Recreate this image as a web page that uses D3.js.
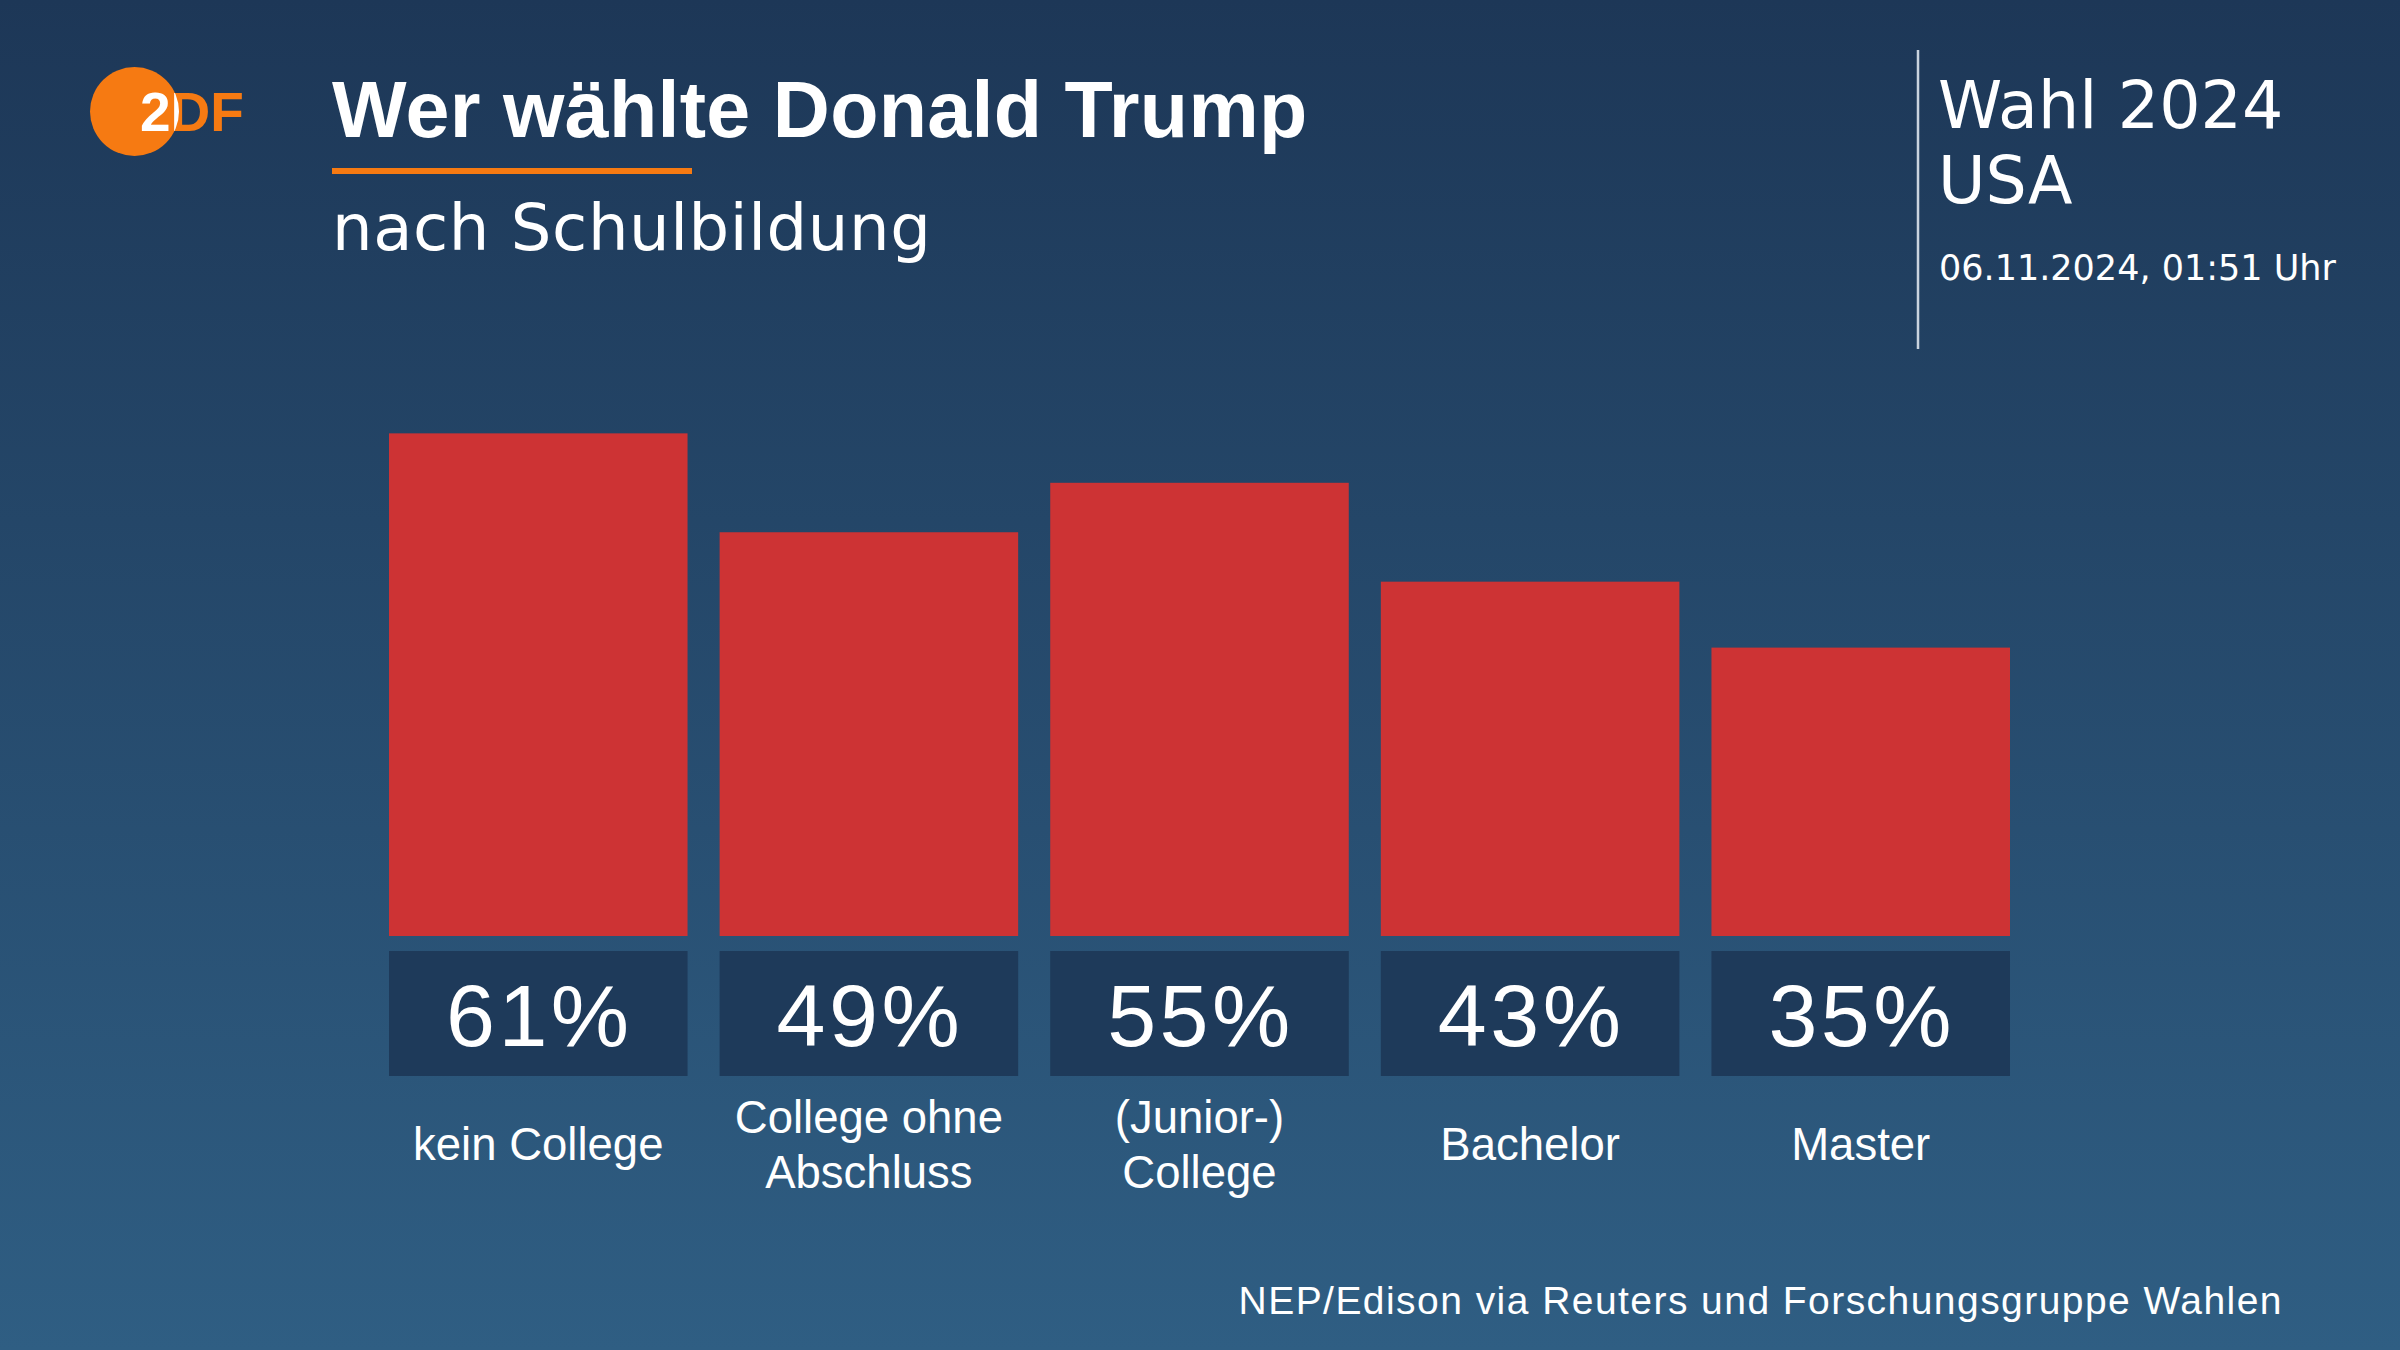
<!DOCTYPE html>
<html><head><meta charset="utf-8">
<script src="https://cdn.jsdelivr.net/npm/d3@7"></script>
<style>html,body{margin:0;padding:0;background:#1d3757;}svg{display:block;}</style>
</head><body>
<script>
// ---- data ----
const categories = ["kein College", "College ohne Abschluss", "(Junior-) College", "Bachelor", "Master"];
const labelLines = [["kein College"], ["College ohne", "Abschluss"], ["(Junior-)", "College"], ["Bachelor"], ["Master"]];
const values = [61, 49, 55, 43, 35];
const valueLabels = ["61%", "49%", "55%", "43%", "35%"];
const title = "Wer wählte Donald Trump";
const subtitle = "nach Schulbildung";
const sideTitle = ["Wahl 2024", "USA"];
const dateText = "06.11.2024, 01:51 Uhr";
const source = "NEP/Edison via Reuters und Forschungsgruppe Wahlen";

const W = 2400, H = 1350;
const svg = d3.select("body").append("svg").attr("width", W).attr("height", H);
const defs = svg.append("defs");
const grad = defs.append("linearGradient").attr("id", "bg").attr("x1", 0).attr("y1", 0).attr("x2", 0).attr("y2", 1);
grad.append("stop").attr("offset", "0%").attr("stop-color", "#1d3757");
grad.append("stop").attr("offset", "100%").attr("stop-color", "#2f5e83");
svg.append("rect").attr("width", W).attr("height", H).attr("fill", "url(#bg)");

const orange = "#f67a12";
const sans = "'Liberation Sans', Arial, sans-serif";
const wide = "'DejaVu Sans', 'Liberation Sans', sans-serif";

// ---- logo ----
const logo = svg.append("g");
defs.append("clipPath").attr("id", "logoClip").append("circle").attr("cx", 134.5).attr("cy", 111.5).attr("r", 44.5);
logo.append("circle").attr("cx", 134.5).attr("cy", 111.5).attr("r", 44.5).attr("fill", orange);
logo.append("text").attr("x", 140).attr("y", 131).attr("font-family", sans).attr("font-weight", 700)
  .attr("font-size", 55).attr("letter-spacing", 0).attr("fill", orange).text("2DF");
logo.append("text").attr("x", 140).attr("y", 131).attr("font-family", sans).attr("font-weight", 700)
  .attr("font-size", 55).attr("letter-spacing", 0).attr("fill", "#fff").attr("clip-path", "url(#logoClip)").text("2DF");

// ---- titles ----
svg.append("text").attr("x", 332).attr("y", 137).attr("font-family", sans).attr("font-weight", 700)
  .attr("font-size", 79).attr("letter-spacing", 0.3).attr("fill", "#fff").text(title);
svg.append("rect").attr("x", 332).attr("y", 168).attr("width", 360).attr("height", 6).attr("fill", orange);
svg.append("text").attr("x", 332).attr("y", 250).attr("font-family", wide)
  .attr("font-size", 64).attr("letter-spacing", 0.6).attr("fill", "#fff").text(subtitle);

// ---- right block ----
svg.append("line").attr("x1", 1918).attr("x2", 1918).attr("y1", 50).attr("y2", 349)
  .attr("stroke", "#c9d3de").attr("stroke-width", 2.5);
svg.selectAll("text.side").data(sideTitle).join("text").attr("class", "side")
  .attr("x", 1938).attr("y", (d, i) => 128 + i * 75).attr("font-family", wide)
  .attr("font-size", 65).attr("fill", "#fff").text(d => d);
svg.append("text").attr("x", 1939).attr("y", 280).attr("font-family", wide)
  .attr("font-size", 35).attr("fill", "#fff").text(dateText);

// ---- chart ----
const x = d3.scaleBand().domain(categories).range([389, 2010]).paddingInner(0.097).paddingOuter(0);
const y = d3.scaleLinear().domain([0, 100]).range([936, 112]);
const data = categories.map((c, i) => ({ c, v: values[i], label: valueLabels[i], lines: labelLines[i] }));

svg.append("g").selectAll("rect").data(data).join("rect")
  .attr("x", d => x(d.c)).attr("width", x.bandwidth())
  .attr("y", d => y(d.v)).attr("height", d => y(0) - y(d.v))
  .attr("fill", "#cd3334");

svg.append("g").selectAll("rect").data(data).join("rect")
  .attr("x", d => x(d.c)).attr("width", x.bandwidth())
  .attr("y", y(0) + 15).attr("height", 125)
  .attr("fill", "#1e3a5a");

svg.append("g").selectAll("text").data(data).join("text")
  .attr("x", d => x(d.c) + x.bandwidth() / 2 + 1).attr("y", 1046)
  .attr("text-anchor", "middle").attr("font-family", sans).attr("font-size", 88)
  .attr("letter-spacing", 3.5).attr("fill", "#fff").text(d => d.label);

const lab = svg.append("g").selectAll("text").data(data).join("text")
  .attr("x", d => x(d.c) + x.bandwidth() / 2)
  .attr("y", d => 1160 - (d.lines.length - 1) * 27.5)
  .attr("text-anchor", "middle").attr("font-family", sans).attr("font-size", 45.5).attr("fill", "#fff");
lab.selectAll("tspan").data(d => d.lines).join("tspan")
  .attr("x", function () { return d3.select(this.parentNode).attr("x"); })
  .attr("dy", (d, i) => i === 0 ? 0 : 55).text(d => d);

// ---- source ----
svg.append("text").attr("x", 2283).attr("y", 1314).attr("text-anchor", "end")
  .attr("font-family", sans).attr("font-size", 39).attr("letter-spacing", 1.45).attr("fill", "#fff").text(source);
</script>
</body></html>
